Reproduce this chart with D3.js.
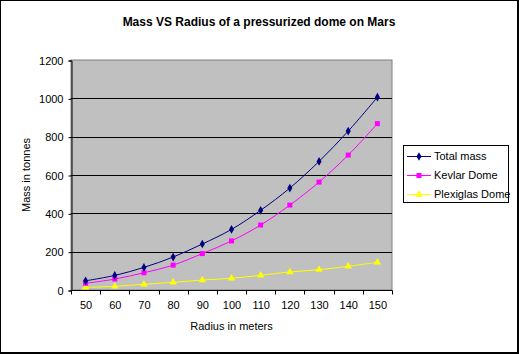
<!DOCTYPE html>
<html>
<head>
<meta charset="utf-8">
<script src="https://cdn.jsdelivr.net/npm/d3@7"></script>
<style>
  body { margin: 0; background: #fff; }
  svg { display: block; font-family: "Liberation Sans", Arial, sans-serif; }
</style>
</head>
<body>
<svg id="chart" width="519" height="354"></svg>
<script>
// values
const radii = [50, 60, 70, 80, 90, 100, 110, 120, 130, 140, 150];
const totalMass = [48, 76, 118, 172, 240, 316, 416, 532, 671, 829, 1006];
const kevlarDome = [35, 57, 90, 130, 190, 256, 339, 443, 563, 704, 868];
const plexiglasDome = [14, 19, 30, 40, 52, 61, 77, 94, 106, 124, 144];
const yTicks = [0, 200, 400, 600, 800, 1000, 1200];

const series = [
  { name: "Total mass", values: totalMass, color: "#000080", marker: "diamond" },
  { name: "Kevlar Dome", values: kevlarDome, color: "#ff00ff", marker: "square" },
  { name: "Plexiglas Dome", values: plexiglasDome, color: "#ffff00", marker: "triangle" }
];

const svg = d3.select("#chart");
const plot = { left: 71, top: 60, right: 392, bottom: 290 };

// outer frame (thin top/left, thicker right/bottom)
svg.append("rect")
  .attr("x", 0.5).attr("y", 0.5).attr("width", 517).attr("height", 352)
  .attr("fill", "#fff").attr("stroke", "#000");
svg.append("line").attr("x1", 518.5).attr("x2", 518.5).attr("y1", 0).attr("y2", 354).attr("stroke", "#000");
svg.append("line").attr("x1", 0).attr("x2", 519).attr("y1", 353.5).attr("y2", 353.5).attr("stroke", "#000");

const x = d3.scaleBand().domain(radii).range([plot.left, plot.right]);
const y = d3.scaleLinear().domain([0, 1200]).range([plot.bottom, plot.top]);

// plot area
svg.append("rect")
  .attr("x", plot.left).attr("y", plot.top)
  .attr("width", plot.right - plot.left).attr("height", plot.bottom - plot.top)
  .attr("fill", "#c0c0c0").attr("stroke", "#808080");

// gridlines
svg.append("g")
  .selectAll("line")
  .data(yTicks.filter(d => d > 0 && d < 1200))
  .join("line")
  .attr("x1", plot.left).attr("x2", plot.right)
  .attr("y1", d => Math.round(y(d)) + 0.5).attr("y2", d => Math.round(y(d)) + 0.5)
  .attr("stroke", "#000");

// y axis
const yAxis = svg.append("g")
  .attr("transform", `translate(${plot.left + 0.5},0.5)`)
  .call(d3.axisLeft(y).tickValues(yTicks).tickFormat(d3.format("d")).tickSize(3).tickPadding(5));
yAxis.select(".domain").attr("stroke", "#000");
yAxis.selectAll("text").attr("font-size", 11).attr("font-family", "Liberation Sans, Arial, sans-serif").attr("fill", "#000");

// x axis with ticks between categories
const xAxis = svg.append("g")
  .attr("transform", `translate(0.5,${plot.bottom + 0.5})`);
xAxis.append("line")
  .attr("x1", plot.left).attr("x2", plot.right)
  .attr("stroke", "#000");
const edges = radii.map(r => x(r)).concat([plot.right]);
xAxis.selectAll(".tk")
  .data(edges)
  .join("line")
  .attr("class", "tk")
  .attr("x1", d => Math.round(d)).attr("x2", d => Math.round(d))
  .attr("y1", 0).attr("y2", 4)
  .attr("stroke", "#000");
xAxis.selectAll("text")
  .data(radii)
  .join("text")
  .attr("x", d => x(d) + x.bandwidth() / 2)
  .attr("y", 18)
  .attr("text-anchor", "middle")
  .attr("font-size", 11)
  .text(d => d);

// axis titles
svg.append("text")
  .attr("x", (plot.left + plot.right) / 2).attr("y", 330)
  .attr("text-anchor", "middle").attr("font-size", 11)
  .text("Radius in meters");
svg.append("text")
  .attr("transform", `translate(30,${(plot.top + plot.bottom) / 2}) rotate(-90)`)
  .attr("text-anchor", "middle").attr("font-size", 11)
  .text("Mass in tonnes");

// title
svg.append("text")
  .attr("x", 259).attr("y", 26)
  .attr("text-anchor", "middle").attr("font-size", 12).attr("font-weight", "bold")
  .text("Mass VS Radius of a pressurized dome on Mars");

// lines
const cx = d => x(d) + x.bandwidth() / 2;
const line = d3.line()
  .curve(d3.curveCatmullRom.alpha(0.5))
  .x((d, i) => cx(radii[i]))
  .y(d => y(d));

const symbolFor = {
  diamond: d3.symbol().type(d3.symbolDiamond).size(22),
  square: d3.symbol().type(d3.symbolSquare).size(25),
  triangle: d3.symbol().type(d3.symbolTriangle).size(24)
};

// draw back-to-front: plexiglas, kevlar, total
for (const s of series.slice().reverse()) {
  svg.append("path")
    .attr("d", line(s.values))
    .attr("fill", "none")
    .attr("stroke", s.color)
    .attr("stroke-width", 1);
  svg.append("g")
    .selectAll("path")
    .data(s.values)
    .join("path")
    .attr("transform", (d, i) => `translate(${cx(radii[i])},${y(d)})`)
    .attr("d", symbolFor[s.marker]())
    .attr("fill", s.color);
}

// legend
const legend = svg.append("g");
legend.append("rect")
  .attr("x", 403.5).attr("y", 145.5).attr("width", 105).attr("height", 57)
  .attr("fill", "#fff").attr("stroke", "#000");
const rowY = [156, 175, 194];
series.forEach((s, i) => {
  const g = legend.append("g").attr("transform", `translate(0,${rowY[i]})`);
  g.append("line").attr("x1", 407).attr("x2", 431).attr("y1", 0.5).attr("y2", 0.5)
    .attr("stroke", s.color);
  g.append("path").attr("transform", "translate(419,0.5)")
    .attr("d", symbolFor[s.marker]()).attr("fill", s.color);
  g.append("text").attr("x", 434).attr("y", 4).attr("font-size", 11).text(s.name);
});
</script>
</body>
</html>
